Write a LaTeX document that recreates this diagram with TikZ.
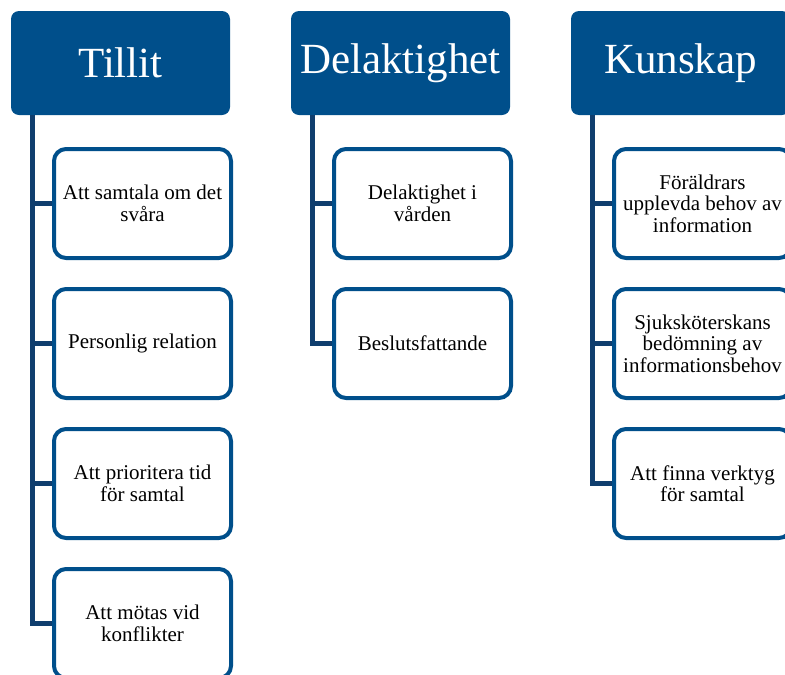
\documentclass[tikz,border=0pt]{standalone}
\usepackage{fontspec}
\setmainfont{Liberation Serif}
\usepackage{tikz}
\usetikzlibrary{positioning}
\definecolor{headblue}{RGB}{0,79,139}
\definecolor{lineblue}{RGB}{16,62,110}

\begin{document}
\begin{tikzpicture}[x=1pt,y=-1pt]
\tikzstyle{head}=[rectangle,rounded corners=8pt,fill=headblue,text=white,minimum width=219pt,minimum height=104pt,font=\fontsize{43}{48}\selectfont]
\tikzstyle{item}=[rectangle,rounded corners=12pt,draw=headblue,line width=4pt,fill=white,minimum width=177pt,minimum height=109pt,align=center,font=\fontsize{21}{21.5}\selectfont]
\tikzstyle{conn}=[draw=lineblue,line width=5pt]
\useasboundingbox (0,0) rectangle (785,675);
\node[head] at(120.5, 63) (tillit) {Tillit};
\node[head] at(400.5, 63) (delakt) {Delaktighet};
\node[head] at(680.5, 63) (kunskap) {Kunskap};
\node[item] at(142.5, 203.5) (t1) {Att samtala om det\\svåra};
\node[item] at(142.5, 343.5) (t2) {Personlig relation};
\node[item] at(142.5, 483.5) (t3) {Att prioritera tid\\för samtal};
\node[item] at(142.5, 623.5) (t4) {Att mötas vid\\konflikter};
\node[item] at(422.5, 203.5) (d1) {Delaktighet i\\vården};
\node[item] at(422.5, 343.5) (d2) {Beslutsfattande};
\node[item] at(702.5, 203.5) (k1) {Föräldrars\\upplevda behov av\\information};
\node[item] at(702.5, 343.5) (k2) {Sjuksköterskans\\bedömning av\\informationsbehov};
\node[item] at(702.5, 483.5) (k3) {Att finna verktyg\\för samtal};
\begin{scope}[on background layer/.try]
\draw[conn] (tillit.south west) ++(22, 0) |- (t4.west);
\draw[conn] (t1.west) -- ++(-21, 0);
\draw[conn] (t2.west) -- ++(-21, 0);
\draw[conn] (t3.west) -- ++(-21, 0);
\draw[conn] (delakt.south west) ++(22, 0) |- (d2.west);
\draw[conn] (d1.west) -- ++(-21, 0);
\draw[conn] (kunskap.south west) ++(22, 0) |- (k3.west);
\draw[conn] (k1.west) -- ++(-21, 0);
\draw[conn] (k2.west) -- ++(-21, 0);
\end{scope}
\end{tikzpicture}
\end{document}
